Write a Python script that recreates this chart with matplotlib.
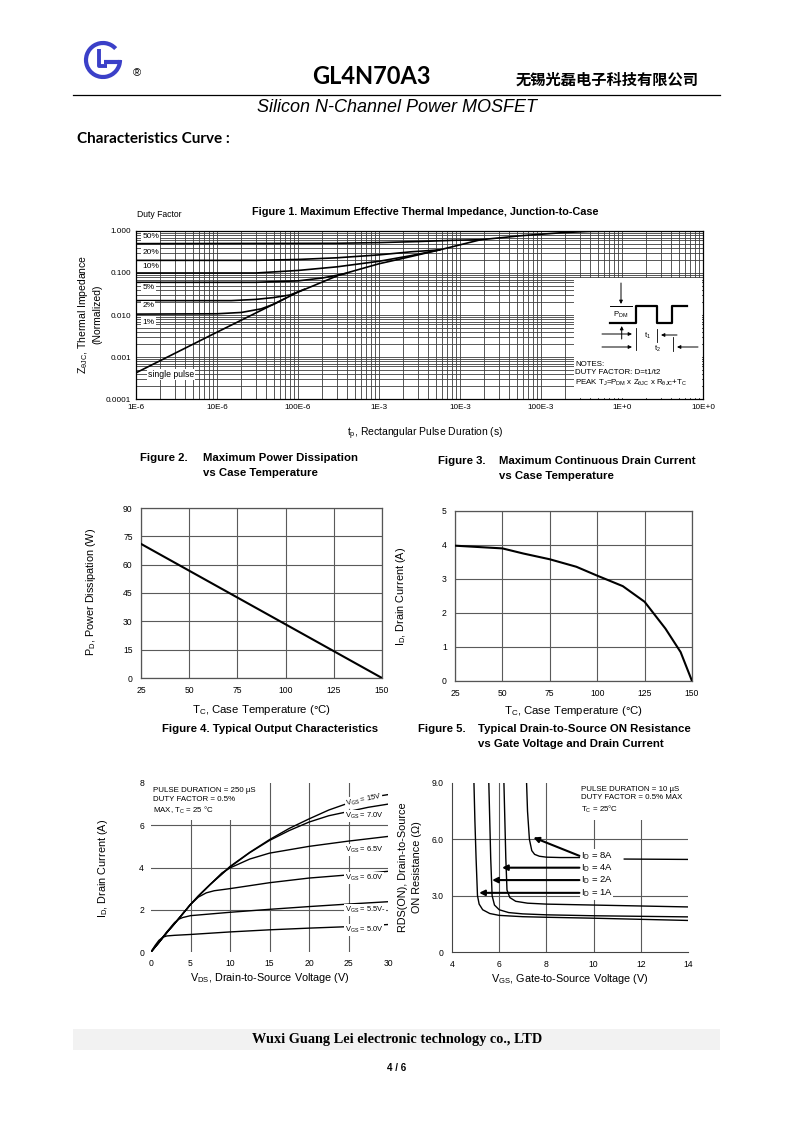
import numpy as np
import matplotlib
matplotlib.use("Agg")
import matplotlib.pyplot as plt
from matplotlib.patches import Rectangle, Arc
from matplotlib.ticker import LogLocator, NullFormatter

plt.rcParams['font.family'] = ['Liberation Sans', 'DejaVu Sans']
plt.rcParams['mathtext.fontset'] = 'custom'
plt.rcParams['mathtext.rm'] = 'Liberation Sans'
plt.rcParams['mathtext.it'] = 'Liberation Sans:italic'
plt.rcParams['mathtext.bf'] = 'Liberation Sans:bold'
plt.rcParams['mathtext.default'] = 'rm'

# ---------------- data ----------------
# Figure 1 : thermal impedance
fig1_xticks = [1e-6, 1e-5, 1e-4, 1e-3, 1e-2, 1e-1, 1e0, 1e1]
fig1_xticklabels = ["1E-6", "10E-6", "100E-6", "1E-3", "10E-3", "100E-3", "1E+0", "10E+0"]
fig1_yticks = [1e-4, 1e-3, 1e-2, 1e-1, 1.0]
fig1_yticklabels = ["0.0001", "0.001", "0.010", "0.100", "1.000"]

t_single = [1e-6, 1e-5, 1e-4, 3.2e-4, 1e-3, 2e-3, 5.6e-3, 1.8e-2, 5.6e-2, 0.18, 0.4, 1.0, 10.0]
z_single = [4.2e-4, 3.9e-3, 3.5e-2, 8.9e-2, 0.166, 0.224, 0.355, 0.62, 0.77, 0.91, 0.98, 1.0, 1.0]
t_d50 = [1e-6, 3e-4, 1e-3, 3e-3, 8e-3, 1.8e-2]
z_d50 = [0.5, 0.51, 0.53, 0.56, 0.60, 0.62]
t_d20 = [1e-6, 3e-5, 1e-4, 3e-4, 1e-3, 2.5e-3, 5.6e-3]
z_d20 = [0.2, 0.2, 0.21, 0.23, 0.27, 0.32, 0.355]
t_d10 = [1e-6, 3e-5, 1e-4, 3e-4, 1e-3, 2.5e-3, 5.6e-3]
z_d10 = [0.1, 0.1, 0.115, 0.14, 0.19, 0.26, 0.355]
t_d5 = [1e-6, 3e-5, 1e-4, 2e-4, 4e-4]
z_d5 = [0.06, 0.06, 0.065, 0.076, 0.098]
t_d2 = [1e-6, 1.5e-5, 3e-5, 5e-5, 8e-5, 1.2e-4]
z_d2 = [0.022, 0.022, 0.0235, 0.026, 0.030, 0.041]
t_d1 = [1e-6, 1e-5, 2e-5, 3.5e-5, 5e-5, 7e-5]
z_d1 = [0.0105, 0.0107, 0.0115, 0.014, 0.018, 0.025]
duty_labels = ["50%", "20%", "10%", "5%", "2%", "1%"]
duty_label_z = [0.72, 0.316, 0.139, 0.044, 0.0164, 0.0068]

# Figure 2 : power dissipation
tc_pd = [25, 150]
pd_w = [71, 0]
fig2_xticks = [25, 50, 75, 100, 125, 150]
fig2_yticks = [0, 15, 30, 45, 60, 75, 90]

# Figure 3 : drain current vs Tc
tc_id = [25, 50, 61, 75, 89, 99.5, 113.5, 125, 136, 144, 150]
id_a = [3.98, 3.90, 3.75, 3.58, 3.36, 3.11, 2.79, 2.33, 1.54, 0.85, 0.0]
fig3_yticks = [0, 1, 2, 3, 4, 5]

# Figure 4 : output characteristics
vds_15 = [0, 1, 2, 3, 4, 5, 6, 7.5, 10, 12.5, 15, 17.5, 20, 22.5, 25, 27.5, 30]
id_15 = [0, 0.45, 0.92, 1.35, 1.8, 2.25, 2.65, 3.2, 4.05, 4.72, 5.32, 5.85, 6.3, 6.72, 7.05, 7.3, 7.45]
vds_70 = [0, 1, 2, 3, 4, 5, 6, 7.5, 10, 12.5, 15, 17.5, 20, 22.5, 25, 27.5, 30]
id_70 = [0, 0.45, 0.92, 1.35, 1.8, 2.25, 2.65, 3.2, 4.02, 4.7, 5.28, 5.75, 6.15, 6.45, 6.65, 6.85, 7.0]
vds_65 = [0, 1, 2, 3, 4, 5, 6, 7.5, 9, 10, 12.5, 15, 20, 25, 30]
id_65 = [0, 0.45, 0.92, 1.35, 1.8, 2.25, 2.65, 3.2, 3.75, 3.98, 4.4, 4.68, 5.0, 5.25, 5.47]
vds_60 = [0, 1, 2, 3, 4, 5, 6, 7, 8, 10, 15, 20, 25, 30]
id_60 = [0, 0.45, 0.92, 1.35, 1.8, 2.25, 2.6, 2.8, 2.9, 3.0, 3.28, 3.5, 3.65, 3.82]
vds_55 = [0, 1, 2, 3, 3.5, 4, 5, 7.5, 10, 15, 20, 25, 30]
id_55 = [0, 0.47, 0.95, 1.4, 1.55, 1.63, 1.72, 1.8, 1.88, 2.02, 2.15, 2.27, 2.38]
vds_50 = [0, 0.5, 1, 1.5, 2, 3, 5, 10, 15, 20, 25, 30]
id_50 = [0, 0.3, 0.55, 0.7, 0.76, 0.79, 0.83, 0.95, 1.05, 1.13, 1.2, 1.3]
vgs_labels = ["15V", "7.0V", "6.5V", "6.0V", "5.5V-", "5.0V"]
vgs_label_y = [7.2, 6.45, 4.84, 3.5, 1.98, 1.03]

# Figure 5 : on-resistance vs VGS
vgs_1a = [4.93, 4.97, 5.02, 5.08, 5.15, 5.3, 5.6, 6, 7, 8, 10, 12, 14]
r_1a = [9.0, 7.0, 5.0, 3.0, 2.55, 2.25, 2.05, 1.95, 1.88, 1.85, 1.8, 1.74, 1.68]
vgs_2a = [5.56, 5.6, 5.64, 5.7, 5.8, 6.0, 6.4, 7, 8, 10, 12, 14]
r_2a = [9.0, 7.0, 5.0, 3.0, 2.5, 2.25, 2.1, 2.03, 1.98, 1.93, 1.9, 1.87]
vgs_4a = [6.2, 6.24, 6.28, 6.33, 6.45, 6.7, 7.2, 8, 10, 12, 14]
r_4a = [9.0, 7.0, 5.0, 3.3, 2.9, 2.7, 2.6, 2.55, 2.5, 2.45, 2.4]
vgs_8a = [7.16, 7.2, 7.28, 7.38, 7.5, 7.7, 8.0, 8.6, 9.4, np.nan, 11.3, 14]
r_8a = [9.0, 7.5, 6.0, 5.4, 5.2, 5.1, 5.05, 5.03, 5.03, np.nan, 4.95, 4.93]
id_labels = ["8A", "4A", "2A", "1A"]
id_label_r = [5.12, 4.49, 3.83, 3.15]
id_arrow_tip = [(7.45, 6.1), (6.12, 4.49), (5.7, 3.83), (5.15, 3.15)]
fig5_xticks = [4, 6, 8, 10, 12, 14]
fig5_yticks = [0, 3.0, 6.0, 9.0]
fig5_yticklabels = ["0", "3.0", "6.0", "9.0"]

# ---------------- layout ----------------
W, H = 793, 1122
fig = plt.figure(figsize=(W / 100, H / 100), dpi=100)


def box(x0, y0, x1, y1):
    return [x0 / W, 1 - y1 / H, (x1 - x0) / W, (y1 - y0) / H]


pg = fig.add_axes([0, 0, 1, 1])
pg.set_xlim(0, W)
pg.set_ylim(H, 0)
pg.axis('off')

# header
blue = '#3b40c8'
pg.add_patch(Arc((103, 60), 34, 34, theta1=0, theta2=318, lw=3.0, color=blue))
pg.plot([104, 121], [61.5, 61.5], color=blue, lw=3.0, solid_capstyle='butt')
pg.plot([99, 99, 107], [49, 66, 66], color=blue, lw=2.8, solid_capstyle='butt')
pg.text(133, 73, "®", fontsize=8, ha='left', va='center')
pg.text(371, 76, "GL4N70A3", fontsize=17, fontweight='bold', family=['Lato', 'DejaVu Sans'],
        ha='center', va='center')
pg.text(607, 80, "无锡光磊电子科技有限公司", fontsize=11, fontweight='bold',
        family=['Noto Sans CJK SC', 'DejaVu Sans'], ha='center', va='center')
pg.plot([73, 720], [95, 95], color='k', lw=0.9)
pg.text(397, 107, "Silicon N-Channel Power MOSFET", fontsize=13, style='italic',
        ha='center', va='center')
pg.text(77, 139, "Characteristics Curve :", fontsize=11, fontweight='bold',
        family=['Lato', 'DejaVu Sans'], ha='left', va='center')

# footer
pg.add_patch(Rectangle((73, 1029), 647, 21, facecolor='#f2f2f2', edgecolor='none'))
pg.text(397, 1039, "Wuxi Guang Lei electronic technology co., LTD", fontsize=10.3,
        fontweight='bold', family=['Liberation Serif', 'DejaVu Serif'], ha='center', va='center')
pg.text(397, 1068, "4 / 6", fontsize=7, fontweight='bold',
        family=['Liberation Sans Narrow', 'Liberation Sans'], ha='center', va='center')

TF = 8.2   # title font
LF = 7.8   # axis label font
KF = 6.2   # tick font
SF = 5.7   # small annotation font

# ---------------- Figure 1 ----------------
ax1 = fig.add_axes(box(136, 231, 703, 399))
ax1.set_xscale('log')
ax1.set_yscale('log')
ax1.set_xlim(1e-6, 10)
ax1.set_ylim(1e-4, 1.0)
ax1.set_xticks(fig1_xticks)
ax1.set_xticklabels(fig1_xticklabels)
ax1.set_yticks(fig1_yticks)
ax1.set_yticklabels(fig1_yticklabels)
ax1.xaxis.set_minor_locator(LogLocator(10, subs=np.arange(2, 10), numticks=100))
ax1.yaxis.set_minor_locator(LogLocator(10, subs=np.arange(2, 10), numticks=100))
ax1.xaxis.set_minor_formatter(NullFormatter())
ax1.yaxis.set_minor_formatter(NullFormatter())
ax1.set_axisbelow(True)
ax1.grid(which='both', color='#3c3c3c', lw=0.6)
ax1.tick_params(which='both', length=0, labelsize=5.9, pad=3.5)
for s in ax1.spines.values():
    s.set_linewidth(0.9)
for t, z in [(t_single, z_single), (t_d50, z_d50), (t_d20, z_d20), (t_d10, z_d10),
             (t_d5, z_d5), (t_d2, z_d2), (t_d1, z_d1)]:
    ax1.plot(t, z, color='k', lw=1.2, zorder=3)
for lab, zy in zip(duty_labels, duty_label_z):
    ax1.text(1.2e-6, zy, lab, fontsize=6.0, ha='left', va='center', zorder=4,
             bbox=dict(fc='white', ec='none', pad=0.8))
ax1.text(1.4e-6, 3.9e-4, "single pulse", fontsize=6.2, ha='left', va='center', zorder=4,
         bbox=dict(fc='white', ec='none', pad=0.8))

pg.text(425, 212, "Figure 1. Maximum Effective Thermal Impedance, Junction-to-Case",
        fontsize=7.8, fontweight='bold', ha='center', va='center')
pg.text(137, 214, "Duty Factor", fontsize=6.2, ha='left', va='center')
pg.text(83, 314, r"Z$_{θJC}$, Thermal Impedance", fontsize=7.5, rotation=90,
        ha='center', va='center')
pg.text(97, 314, "(Normalized)", fontsize=7.5, rotation=90, ha='center', va='center')
pg.text(425, 434, r"t$_p$, Rectangular Pulse Duration (s)", fontsize=7.5,
        ha='center', va='center')

# inset with the pulse diagram
axi = fig.add_axes(box(574, 278, 702, 398))
axi.set_xlim(0, 128)
axi.set_ylim(120, 0)
axi.set_facecolor('white')
axi.set_xticks([])
axi.set_yticks([])
for s in axi.spines.values():
    s.set_visible(False)
axi.set_zorder(5)
arw = dict(arrowstyle='-|>', color='k', lw=0.7, mutation_scale=5, shrinkA=0, shrinkB=0)
axi.annotate('', xy=(47, 26), xytext=(47, 5), arrowprops=arw)
axi.annotate('', xy=(47.7, 48), xytext=(47.7, 61), arrowprops=arw)
axi.plot([36, 58], [27.7, 27.7], color='k', lw=0.7)
axi.plot([36, 62, 62, 83, 83, 98, 98, 113], [45.3, 45.3, 27.7, 27.7, 45.3, 45.3, 27.7, 27.7],
         color='k', lw=1.6)
axi.text(47, 36.5, r"P$_{DM}$", fontsize=5.6, ha='center', va='center')
axi.annotate('', xy=(58, 56), xytext=(28, 56), arrowprops=arw)
axi.plot([62, 62], [50, 72], color='k', lw=0.6)
axi.text(73, 58, r"t$_1$", fontsize=5.6, ha='center', va='center')
axi.annotate('', xy=(87, 57), xytext=(103, 57), arrowprops=arw)
axi.plot([83, 83], [51, 64], color='k', lw=0.6)
axi.annotate('', xy=(58, 69), xytext=(28, 69), arrowprops=arw)
axi.text(83, 71, r"t$_2$", fontsize=5.6, ha='center', va='center')
axi.plot([99, 99], [59, 73], color='k', lw=0.6)
axi.annotate('', xy=(103, 69), xytext=(124, 69), arrowprops=arw)
axi.text(1, 86, "NOTES:", fontsize=SF, ha='left', va='center')
axi.text(1, 95, "DUTY FACTOR: D=t1/t2", fontsize=SF, ha='left', va='center')
axi.text(1, 105, r"PEAK T$_J$=P$_{DM}$ x Z$_{θJC}$ x R$_{θJC}$+T$_C$", fontsize=SF,
         ha='left', va='center')

# ---------------- Figure 2 ----------------
ax2 = fig.add_axes(box(141, 508, 382, 678))
ax2.set_xlim(25, 150)
ax2.set_ylim(0, 90)
ax2.set_xticks(fig2_xticks)
ax2.set_yticks(fig2_yticks)
ax2.set_axisbelow(True)
ax2.grid(color='#5a5a5a', lw=0.8)
ax2.tick_params(length=0, labelsize=KF, pad=6)
for s in ax2.spines.values():
    s.set_color('#555555')
    s.set_linewidth(0.9)
ax2.plot(tc_pd, pd_w, color='k', lw=1.5, zorder=3)
pg.text(140, 458, "Figure 2.", fontsize=TF, fontweight='bold', ha='left', va='center')
pg.text(203, 458, "Maximum Power Dissipation", fontsize=TF, fontweight='bold', ha='left', va='center')
pg.text(203, 473, "vs Case Temperature", fontsize=TF, fontweight='bold', ha='left', va='center')
pg.text(91, 592, r"P$_D$, Power Dissipation (W)", fontsize=LF, rotation=90, ha='center', va='center')
pg.text(262, 710, r"T$_C$, Case Temperature (°C)", fontsize=8.2, ha='center', va='center')

# ---------------- Figure 3 ----------------
ax3 = fig.add_axes(box(455, 511, 692, 681))
ax3.set_xlim(25, 150)
ax3.set_ylim(0, 5)
ax3.set_xticks(fig2_xticks)
ax3.set_yticks(fig3_yticks)
ax3.set_axisbelow(True)
ax3.grid(color='#5a5a5a', lw=0.8)
ax3.tick_params(length=0, labelsize=KF, pad=6)
for s in ax3.spines.values():
    s.set_color('#555555')
    s.set_linewidth(0.9)
ax3.plot(tc_id, id_a, color='k', lw=1.5, zorder=3)
pg.text(438, 461, "Figure 3.", fontsize=TF, fontweight='bold', ha='left', va='center')
pg.text(499, 461, "Maximum Continuous Drain Current", fontsize=TF, fontweight='bold', ha='left', va='center')
pg.text(499, 476, "vs Case Temperature", fontsize=TF, fontweight='bold', ha='left', va='center')
pg.text(401, 596, r"I$_D$, Drain Current (A)", fontsize=LF, rotation=90, ha='center', va='center')
pg.text(574, 711, r"T$_C$, Case Temperature (°C)", fontsize=8.2, ha='center', va='center')

# ---------------- Figure 4 ----------------
ax4 = fig.add_axes(box(151, 783, 388, 952))
ax4.set_xlim(0, 30)
ax4.set_ylim(0, 8)
ax4.set_xticks([0, 5, 10, 15, 20, 25, 30])
ax4.set_yticks([0, 2, 4, 6, 8])
ax4.xaxis.remove_overlapping_locs = False
ax4.yaxis.remove_overlapping_locs = False
ax4.set_xticks([5, 10, 15, 20, 25], minor=True)
ax4.set_yticks([2, 4, 6], minor=True)
ax4.set_axisbelow(True)
ax4.grid(which='minor', color='#5a5a5a', lw=0.8)
ax4.grid(which='major', visible=False)
ax4.tick_params(which='both', length=0, labelsize=KF, pad=5)
for s in ax4.spines.values():
    s.set_visible(False)
ax4.add_patch(Rectangle((0, 0.78), 0.44, 0.22, transform=ax4.transAxes,
                        facecolor='white', edgecolor='none', zorder=1))
ax4.text(0.3, 7.8, "PULSE DURATION = 250 µS\nDUTY FACTOR = 0.5%\nMAX, T$_C$ = 25 °C",
         fontsize=SF, ha='left', va='top', linespacing=1.3, zorder=4)
for x, y in [(vds_15, id_15), (vds_70, id_70), (vds_65, id_65), (vds_60, id_60),
             (vds_55, id_55), (vds_50, id_50)]:
    ax4.plot(x, y, color='k', lw=1.0, zorder=3)
for lab, yy in zip(vgs_labels, vgs_label_y):
    rot = 12 if lab == "15V" else 0
    ax4.text(24.5, yy, "V$_{GS}$ = " + lab, fontsize=5.4, ha='left', va='center', rotation=rot,
             zorder=4, bbox=dict(fc='white', ec='none', pad=0.5))
pg.text(270, 729, "Figure 4. Typical Output Characteristics", fontsize=TF, fontweight='bold',
        ha='center', va='center')
pg.text(103, 868, r"I$_D$, Drain Current (A)", fontsize=LF, rotation=90, ha='center', va='center')
pg.text(270, 978, r"V$_{DS}$, Drain-to-Source Voltage (V)", fontsize=LF, ha='center', va='center')

# ---------------- Figure 5 ----------------
ax5 = fig.add_axes(box(452, 783, 688, 952))
ax5.set_xlim(4, 14)
ax5.set_ylim(0, 9)
ax5.set_xticks(fig5_xticks)
ax5.set_yticks(fig5_yticks)
ax5.set_yticklabels(fig5_yticklabels)
ax5.xaxis.remove_overlapping_locs = False
ax5.yaxis.remove_overlapping_locs = False
ax5.set_xticks([6, 8, 10, 12], minor=True)
ax5.set_yticks([3, 6], minor=True)
ax5.set_axisbelow(True)
ax5.grid(which='minor', color='#5a5a5a', lw=0.8)
ax5.grid(which='major', visible=False)
ax5.tick_params(which='both', length=0, labelsize=KF, pad=6)
ax5.spines['top'].set_visible(False)
ax5.spines['right'].set_visible(False)
ax5.spines['left'].set_color('#444444')
ax5.spines['bottom'].set_color('#444444')
ax5.add_patch(Rectangle((0.52, 0.78), 0.48, 0.22, transform=ax5.transAxes,
                        facecolor='white', edgecolor='none', zorder=1))
ax5.text(9.45, 8.85, "PULSE DURATION = 10 µS\nDUTY FACTOR = 0.5% MAX\nT$_C$ = 25°C",
         fontsize=SF, ha='left', va='top', linespacing=1.3, zorder=4)
for x, y in [(vgs_1a, r_1a), (vgs_2a, r_2a), (vgs_4a, r_4a), (vgs_8a, r_8a)]:
    ax5.plot(x, y, color='k', lw=1.0, zorder=3)
arw5 = dict(arrowstyle='-|>', color='k', lw=1.5, mutation_scale=8, shrinkA=0, shrinkB=0)
for lab, ry, tip in zip(id_labels, id_label_r, id_arrow_tip):
    ax5.text(9.45, ry, "I$_D$ = " + lab, fontsize=6.8, ha='left', va='center', zorder=4,
             bbox=dict(fc='white', ec='none', pad=0.4))
    ax5.annotate('', xy=tip, xytext=(9.4, ry), arrowprops=arw5, zorder=4)
pg.text(418, 729, "Figure 5.", fontsize=TF, fontweight='bold', ha='left', va='center')
pg.text(478, 729, "Typical Drain-to-Source ON Resistance", fontsize=TF, fontweight='bold',
        ha='left', va='center')
pg.text(478, 744, "vs Gate Voltage and Drain Current", fontsize=TF, fontweight='bold',
        ha='left', va='center')
pg.text(403, 867, "RDS(ON), Drain-to-Source", fontsize=LF, rotation=90, ha='center', va='center')
pg.text(417, 867, "ON Resistance (Ω)", fontsize=LF, rotation=90, ha='center', va='center')
pg.text(570, 979, r"V$_{GS}$, Gate-to-Source Voltage (V)", fontsize=LF, ha='center', va='center')

fig.savefig("out.png", dpi=100)
